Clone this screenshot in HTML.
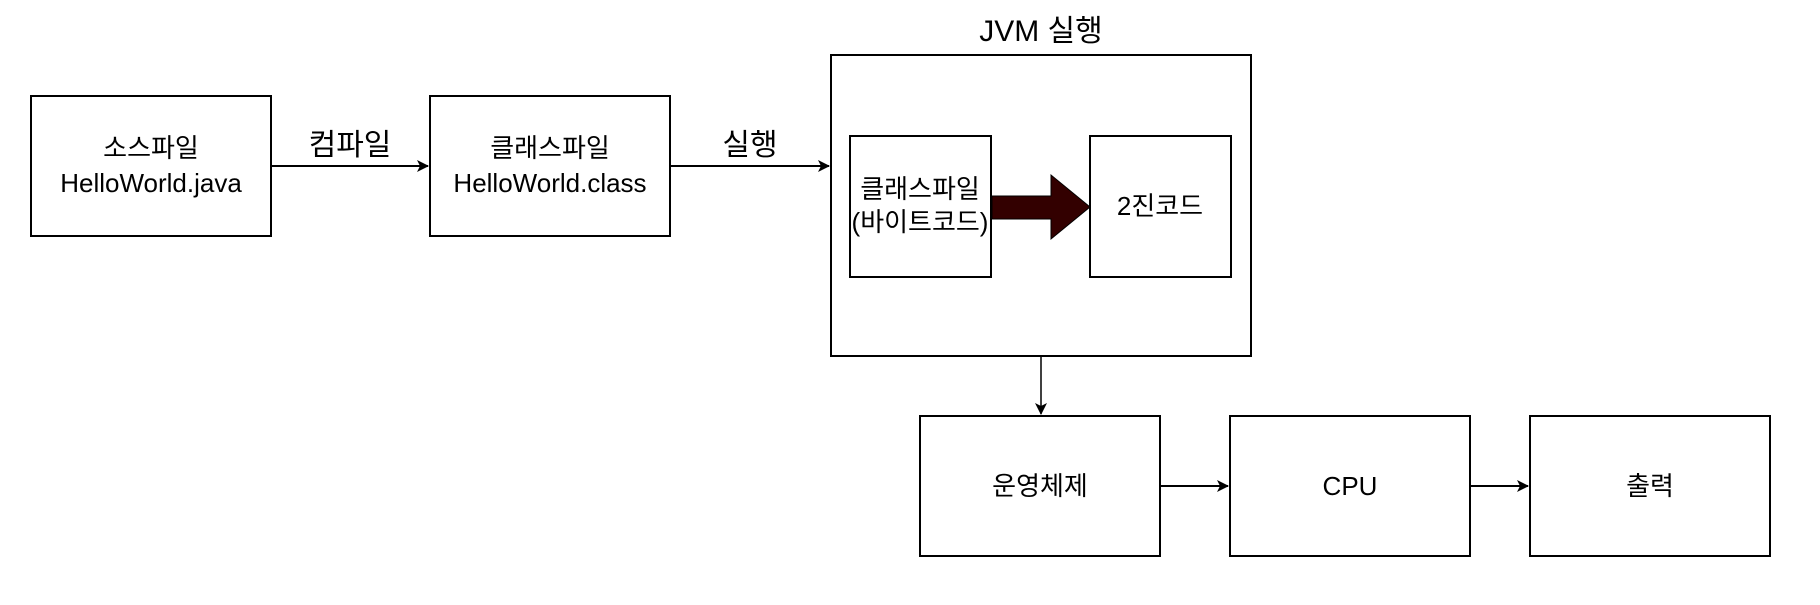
<!DOCTYPE html>
<html><head><meta charset="utf-8"><style>
body{margin:0;background:#fff;width:1820px;height:600px;overflow:hidden}
text{font-family:"Liberation Sans","Noto Sans CJK KR",sans-serif;fill:#000}
</style></head><body>
<svg width="1820" height="600" xmlns="http://www.w3.org/2000/svg">
<defs><marker id="a" markerWidth="12" markerHeight="12" refX="11" refY="6" orient="auto" markerUnits="userSpaceOnUse"><path d="M0,0 L12,6 L0,12 L3,6 Z" fill="#000"/></marker></defs>
<g fill="none" stroke="#000" stroke-width="2">
<rect x="31" y="96" width="240" height="140"/>
<rect x="430" y="96" width="240" height="140"/>
<rect x="831" y="55" width="420" height="301"/>
<rect x="850" y="136" width="141" height="141"/>
<rect x="1090" y="136" width="141" height="141"/>
<rect x="920" y="416" width="240" height="140"/>
<rect x="1230" y="416" width="240" height="140"/>
<rect x="1530" y="416" width="240" height="140"/>
<line x1="271" y1="166" x2="428" y2="166" marker-end="url(#a)"/>
<line x1="670" y1="166" x2="829" y2="166" marker-end="url(#a)"/>
<line x1="1041" y1="356" x2="1041" y2="414" stroke-width="1.5" marker-end="url(#a)"/>
<line x1="1160" y1="486" x2="1228" y2="486" marker-end="url(#a)"/>
<line x1="1470" y1="486" x2="1528" y2="486" marker-end="url(#a)"/>
</g>
<path d="M992,196 L1051,196 L1051,175 L1090,207 L1051,239 L1051,219 L992,219 Z" fill="#330000" stroke="#000" stroke-width="1"/>
<g font-size="26" text-anchor="middle">
<text x="151" y="157">소스파일</text>
<text x="151" y="192">HelloWorld.java</text>
<text x="550" y="157">클래스파일</text>
<text x="550" y="192">HelloWorld.class</text>
<text x="920" y="198">클래스파일</text>
<text x="920" y="231">(바이트코드)</text>
<text x="1160" y="215">2진코드</text>
<text x="1040" y="495">운영체제</text>
<text x="1350" y="495">CPU</text>
<text x="1650" y="495">출력</text>
</g>
<g font-size="30" text-anchor="middle">
<text x="350" y="155">컴파일</text>
<text x="750" y="155">실행</text>
<text x="1041" y="41">JVM 실행</text>
</g>
</svg>
</body></html>
